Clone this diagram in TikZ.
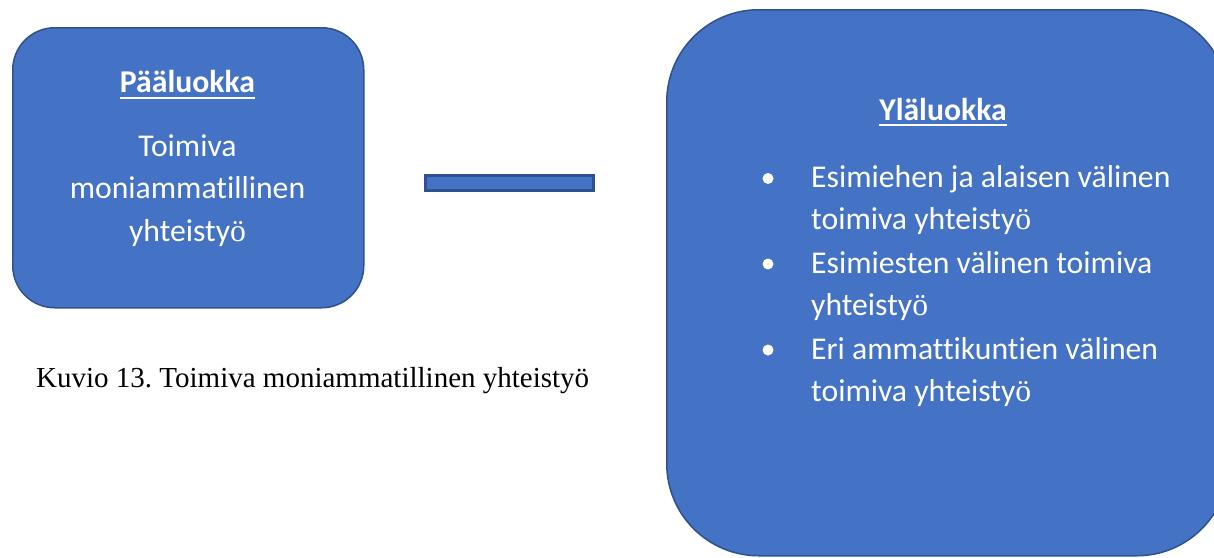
\documentclass[tikz,border=0pt]{standalone}
\usepackage{fontspec}
\setmainfont{Carlito}[Ligatures=NoCommon]
\newfontfamily\capfont{Liberation Serif}
\definecolor{boxfill}{HTML}{4472C4}
\definecolor{boxline}{HTML}{2F528F}
\newcommand{\serifoe}{{\capfont ö}}
\frenchspacing
\tikzset{
  box/.style={draw=boxline, fill=boxfill, line width=1.5pt, anchor=north west, inner sep=0pt},
  barbox/.style={draw=boxline, fill=boxfill, line width=2.5pt, anchor=north west, inner sep=0pt},
  txt/.style={text=white, font=\fontsize{31.7}{38}\selectfont, inner sep=0pt, anchor=base},
  ttl/.style={txt, font=\fontsize{31.7}{38}\selectfont\bfseries},
  ltxt/.style={txt, anchor=base west},
  uline/.style={draw=white, line width=2.4pt},
  dot/.style={circle, fill=white, inner sep=0pt, minimum size=11pt},
  captxt/.style={font=\capfont\fontsize{29}{34}\selectfont, inner sep=0pt, anchor=base west, text=black}
}
\begin{document}
\begin{tikzpicture}[x=1pt,y=-1pt]
\useasboundingbox (0,0) rectangle (1214,557);
\clip (0,0) rectangle (1214,557);
% boxes
\node[box, rounded corners=42pt, minimum width=351pt, minimum height=280pt] (left) at (12,27) {};
\node[box, rounded corners=92pt, minimum width=562pt, minimum height=546pt] (right) at (666,9) {};
\node[barbox, minimum width=168pt, minimum height=15pt] (bar) at (424,174) {};
% left box text
\node[ttl] (lt) at (187.5,92) {Pääluokka};
\draw[uline] ([yshift=-6pt]lt.base west) -- ([yshift=-6pt]lt.base east);
\node[txt] (l1) at (187.5,156) {Toimiva};
\node[txt] (l2) at (187.5,198) {moniammatillinen};
\node[txt] (l3) at (187.5,241) {yhteisty\serifoe};
% caption
\node[captxt] (caption) at (36,387) {Kuvio 13. Toimiva moniammatillinen yhteistyö};
% right box text
\node[ttl] (rt) at (943,120) {Yläluokka};
\draw[uline] ([yshift=-5pt]rt.base west) -- ([yshift=-5pt]rt.base east);
\node[dot] (b1) at (768,178.5) {};
\node[dot] (b2) at (768,264) {};
\node[dot] (b3) at (768,350) {};
\node[ltxt] (r1) at (811,187) {Esimiehen ja alaisen välinen};
\node[ltxt] (r2) at (811,229) {toimiva yhteisty\serifoe};
\node[ltxt] (r3) at (811,273) {Esimiesten välinen toimiva};
\node[ltxt] (r4) at (811,315) {yhteisty\serifoe};
\node[ltxt] (r5) at (811,359) {Eri ammattikuntien välinen};
\node[ltxt] (r6) at (811,401) {toimiva yhteisty\serifoe};
\end{tikzpicture}
\end{document}
